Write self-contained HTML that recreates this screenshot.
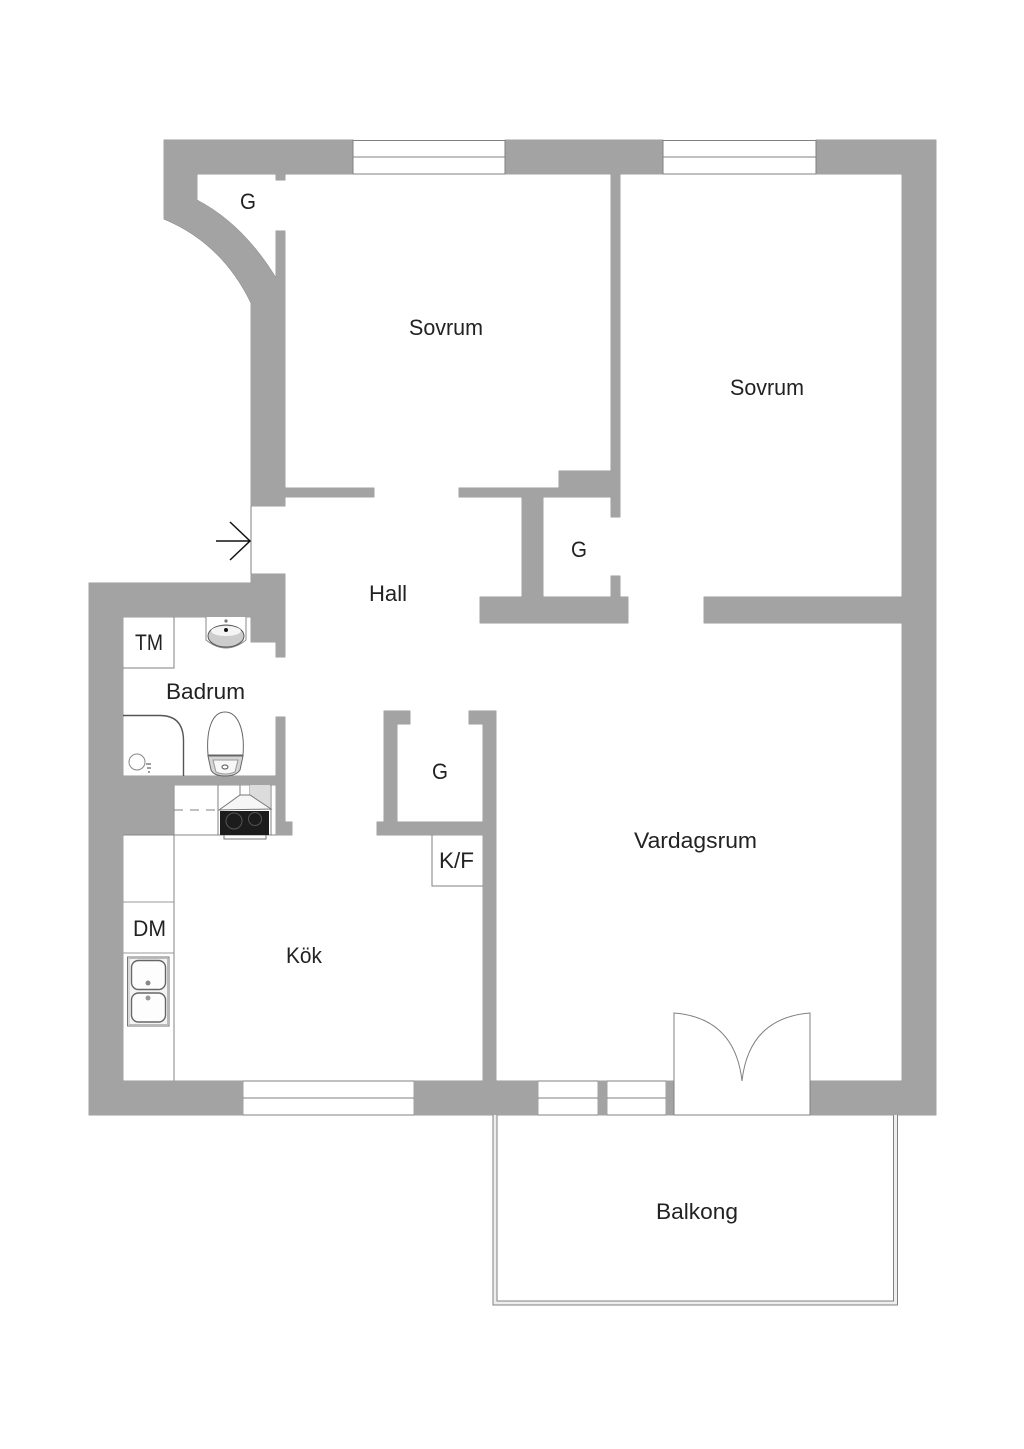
<!DOCTYPE html>
<html>
<head>
<meta charset="utf-8">
<style>
html,body{margin:0;padding:0;background:#fff}
svg{display:block}
text{font-family:"Liberation Sans",sans-serif;font-size:22px;fill:#222}
</style>
</head>
<body>
<svg width="1024" height="1449" viewBox="0 0 1024 1449" xmlns="http://www.w3.org/2000/svg">
<rect width="1024" height="1449" fill="#fff"/>
<defs>
<g id="w">
<!-- top-left with curve -->
<path d="M164 140H353V174H285V180H276V174H197V200Q243 224 276 278V231H285V506H251V303Q222 243 164 219Z"/>
<rect x="505" y="140" width="158" height="34"/>
<path d="M816 140H936V1115H810V1081H902V623H704V597H902V174H816Z"/>
<!-- bedroom divider -->
<path d="M611 174H620V517H611V497H543V597H611V576H620V597H628V623H480V597H522V497H459V488H559V471H611Z"/>
<rect x="285" y="488" width="89" height="9"/>
<!-- west / bath / kitchen -->
<path d="M89 583H251V574H285V657H276V642H251V617H123V776H276V717H285V822H292V835H276V785H174V835H123V1081H243V1115H89Z"/>
<!-- closet + partition -->
<path d="M384 711H410V724H397V822H483V724H469V711H496V1081H538V1115H414V1081H483V835H377V822H384Z"/>
<rect x="598" y="1081" width="9" height="34"/>
<rect x="666" y="1081" width="8" height="34"/>
</g>
</defs>
<use href="#w" fill="#7b7b7b" stroke="#7b7b7b" stroke-width="0.7"/>
<use href="#w" fill="#a3a3a3"/>

<g fill="none" stroke="#808080" stroke-width="1">
<!-- windows -->
<path d="M353 140.500H505M353 157H505M353 174H505M353 140V174M505 140V174"/>
<path d="M663 140.500H816M663 157H816M663 174H816M663 140V174M816 140V174"/>
<path d="M243 1081H414M243 1098H414M243 1115H414"/>
<path d="M538 1081H598M538 1098H598M538 1115H598"/>
<path d="M607 1081H666M607 1098H666M607 1115H666"/>
<!-- balcony door -->
<path d="M674 1115V1013Q735 1018 742 1081Q749 1018 810 1013V1115M674 1115H810"/>
<!-- entry -->
<path d="M251 506V574"/>
<!-- fixtures -->
<path d="M123 668H174V617"/>
<path d="M432 835V886H483"/>
<path d="M174 785V1081" stroke="#999" stroke-width="1.2"/>
<path d="M123 902H174M123 953H174" stroke="#999"/>
<path d="M123 835H276" stroke="#888"/>
<path d="M218 785V835M271 785V835M240 785V795M250 785V795"/>
<path d="M174 810H218" stroke-dasharray="9 7"/>
</g>

<!-- balcony rail -->
<path d="M495 1115V1303H895.500V1115" fill="none" stroke="#808080" stroke-width="5"/>
<path d="M495 1115V1303H895.500V1115" fill="none" stroke="#eee" stroke-width="3"/>

<!-- arrow -->
<path d="M216 541H250M230 522L250 541L230 560" fill="none" stroke="#111" stroke-width="1.5"/>

<!-- shower -->
<path d="M123 715.500H160Q183 715.500 183.500 740V776" fill="none" stroke="#555" stroke-width="1.4"/>
<circle cx="137" cy="762" r="8" fill="#fff" stroke="#888"/>
<path d="M146 764H151M147 768H151M148 772H150" stroke="#666" stroke-width="1.3" fill="none"/>

<!-- wash basin -->
<path d="M206 617V640Q226 656 246 640V617" fill="#fff" stroke="#888"/>
<ellipse cx="226" cy="636" rx="18" ry="11" fill="#ccc" stroke="#555"/>
<ellipse cx="226" cy="631" rx="15" ry="5" fill="#f4f4f4"/>
<circle cx="226" cy="630" r="2" fill="#111"/>
<circle cx="226" cy="621" r="1.600" fill="#777"/>

<!-- toilet -->
<path d="M208 755C206 730 212 712 225 712C238 712 245 730 243 755Z" fill="#fff" stroke="#666"/>
<path d="M208 756H243L240 770Q236 776 225 776Q214 776 211 770Z" fill="#d5d5d5" stroke="#666"/>
<path d="M213 760H238L235 772Q225 776 216 772Z" fill="#f7f7f7" stroke="#999"/>
<ellipse cx="225" cy="767" rx="3" ry="2" fill="#fff" stroke="#555"/>

<!-- stove + hood -->
<polygon points="250,785 270,785 270,808 250,795" fill="#dcdcdc"/>
<polygon points="219,810 240,795 250,795 271,809" fill="#f6f6f6" stroke="#777"/>
<rect x="220" y="811" width="49" height="24" fill="#1c1c1c"/>
<circle cx="234" cy="821" r="8" fill="none" stroke="#555"/>
<circle cx="255" cy="819" r="6.500" fill="none" stroke="#555"/>
<path d="M224 835V839H266V835" fill="none" stroke="#777"/>

<!-- kitchen sink -->
<rect x="127.500" y="957" width="41.500" height="69" fill="#f4f4f4" stroke="#777"/>
<rect x="129" y="958.500" width="38.500" height="66" fill="none" stroke="#bbb"/>
<rect x="131.500" y="960.500" width="34" height="29" rx="7" fill="#fdfdfd" stroke="#666" stroke-width="1.4"/>
<rect x="131.500" y="993" width="34" height="29" rx="7" fill="#fdfdfd" stroke="#666" stroke-width="1.4"/>
<circle cx="148" cy="983" r="2.500" fill="#888"/>
<circle cx="148" cy="998" r="2.500" fill="#999"/>

<!-- labels -->
<text x="240" y="209" textLength="16" lengthAdjust="spacingAndGlyphs">G</text>
<text x="409" y="335" textLength="74" lengthAdjust="spacingAndGlyphs">Sovrum</text>
<text x="730" y="395" textLength="74" lengthAdjust="spacingAndGlyphs">Sovrum</text>
<text x="369" y="601" textLength="38" lengthAdjust="spacingAndGlyphs">Hall</text>
<text x="571" y="557" textLength="16" lengthAdjust="spacingAndGlyphs">G</text>
<text x="135" y="650" textLength="28" lengthAdjust="spacingAndGlyphs">TM</text>
<text x="166" y="699" textLength="79" lengthAdjust="spacingAndGlyphs">Badrum</text>
<text x="432" y="779" textLength="16" lengthAdjust="spacingAndGlyphs">G</text>
<text x="439" y="868" textLength="35" lengthAdjust="spacingAndGlyphs">K/F</text>
<text x="634" y="848" textLength="123" lengthAdjust="spacingAndGlyphs">Vardagsrum</text>
<text x="286" y="963" textLength="36" lengthAdjust="spacingAndGlyphs">Kök</text>
<text x="133" y="936" textLength="33" lengthAdjust="spacingAndGlyphs">DM</text>
<text x="656" y="1219" textLength="82" lengthAdjust="spacingAndGlyphs">Balkong</text>
</svg>
</body>
</html>
